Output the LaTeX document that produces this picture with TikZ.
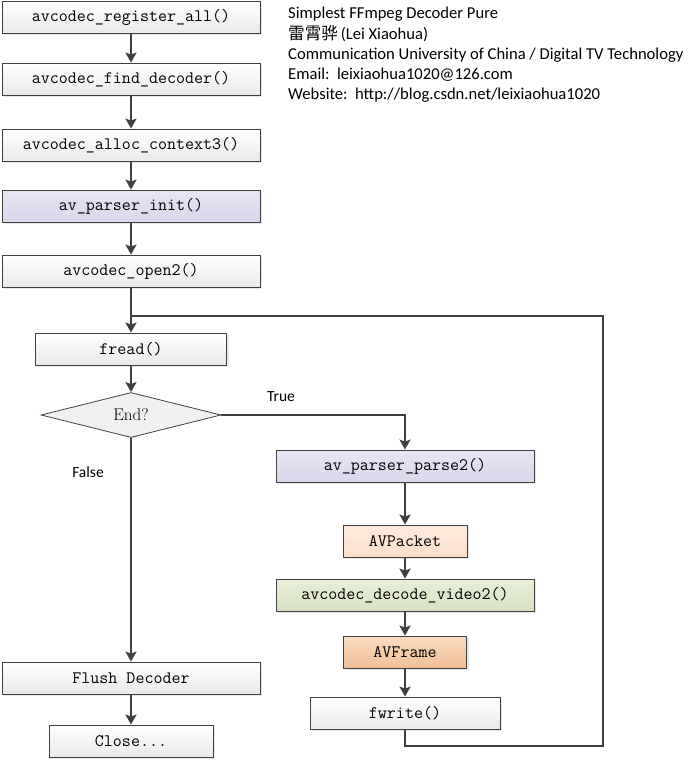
\documentclass[tikz,border=0pt]{standalone}
\usepackage{fontspec}
\newfontfamily\infofont{Carlito}
\newfontfamily\cjk{Noto Sans CJK SC}
\usetikzlibrary{positioning,shapes.geometric,arrows.meta,shadows}

\definecolor{linegray}{RGB}{64,64,64}
\definecolor{lavtop}{RGB}{232,229,244}
\definecolor{lavbot}{RGB}{218,213,235}
\definecolor{peachtop}{RGB}{253,234,220}
\definecolor{peachbot}{RGB}{250,222,202}
\definecolor{greentop}{RGB}{232,238,216}
\definecolor{greenbot}{RGB}{216,226,194}
\definecolor{orangetop}{RGB}{250,220,192}
\definecolor{orangebot}{RGB}{240,190,150}

\tikzset{
  func/.style={draw=linegray, line width=0.8pt, inner sep=0pt,
    minimum height=32pt, font=\fontsize{17.5}{19}\selectfont\ttfamily,
    top color=white, bottom color=gray!17,
    drop shadow={shadow xshift=2pt, shadow yshift=-2pt, opacity=0.18}},
  wide/.style={minimum width=258pt},
  parser/.style={top color=lavtop, bottom color=lavbot},
  flow/.style={draw=linegray, line width=2pt,
    -{Stealth[length=10pt,width=11pt,inset=2pt]}},
  lbl/.style={font=\infofont\fontsize{15.5}{17}\selectfont}
}

\begin{document}
\begin{tikzpicture}[x=1pt, y=-1pt]
  \useasboundingbox (0,0) rectangle (689,762);

  % init steps
  \node[func, wide] (reg) at (131,17) {avcodec\_register\_all()};
  \node[func, wide] (find) at (131,79) {avcodec\_find\_decoder()};
  \node[func, wide] (alloc) at (131,145) {avcodec\_alloc\_context3()};
  \node[func, wide, parser] (pinit) at (131,206) {av\_parser\_init()};
  \node[func, wide] (open) at (131,271) {avcodec\_open2()};

  % read loop
  \node[func, minimum width=191pt] (fread) at (131,349) {fread()};
  \node[draw=linegray, line width=0.8pt, diamond, aspect=4, inner sep=0pt,
        minimum width=180pt, minimum height=45pt, fill=gray!12, text=black,
        font=\fontsize{17}{19}\selectfont] (end) at (131,415) {End?};
  \node[func, wide, parser] (parse) at (405,466) {av\_parser\_parse2()};
  \node[func, minimum width=124pt, top color=peachtop, bottom color=peachbot]
        (pkt) at (405,541) {AVPacket};
  \node[func, wide, top color=greentop, bottom color=greenbot]
        (dec) at (405,595) {avcodec\_decode\_video2()};
  \node[func, minimum width=123pt, top color=orangetop, bottom color=orangebot]
        (frame) at (405,652) {AVFrame};
  \node[func, minimum width=190pt] (fwrite) at (405,713) {fwrite()};

  % finish
  \node[func, wide] (flush) at (131,678) {Flush Decoder};
  \node[func, minimum width=164pt] (close) at (131,741) {Close...};

  % info text
  \node[anchor=north west, align=left, inner sep=0pt,
        font=\infofont\fontsize{16.6}{20.3}\selectfont] (info) at (288,7)
    {Simplest FFmpeg Decoder Pure\\
     {\cjk 雷霄骅}\,(Lei Xiaohua)\\
     Communication University of China / Digital TV Technology\\
     Email:~~leixiaohua1020@126.com\\
     Website:~~http://blog.csdn.net/leixiaohua1020};

  \coordinate (loopR) at (603,746);
  \coordinate (join) at (131,316);

  \draw[flow] (reg) -- (find);
  \draw[flow] (find) -- (alloc);
  \draw[flow] (alloc) -- (pinit);
  \draw[flow] (pinit) -- (open);
  \draw[flow] (open) -- (fread);
  \draw[flow] (fread) -- (end);
  \draw[flow] (end.east) -| (parse.north);
  \draw[flow] (end.south) -- (flush);
  \draw[flow] (flush) -- (close);
  \draw[flow] (parse) -- (pkt);
  \draw[flow] (pkt) -- (dec);
  \draw[flow] (dec) -- (frame);
  \draw[flow] (frame) -- (fwrite);
  \draw[draw=linegray, line width=2pt] (fwrite.south) |- (loopR) |- (join);

  \node[lbl] (truelbl) at (281,397) {True};
  \node[lbl] (falselbl) at (88,472) {False};
\end{tikzpicture}
\end{document}
